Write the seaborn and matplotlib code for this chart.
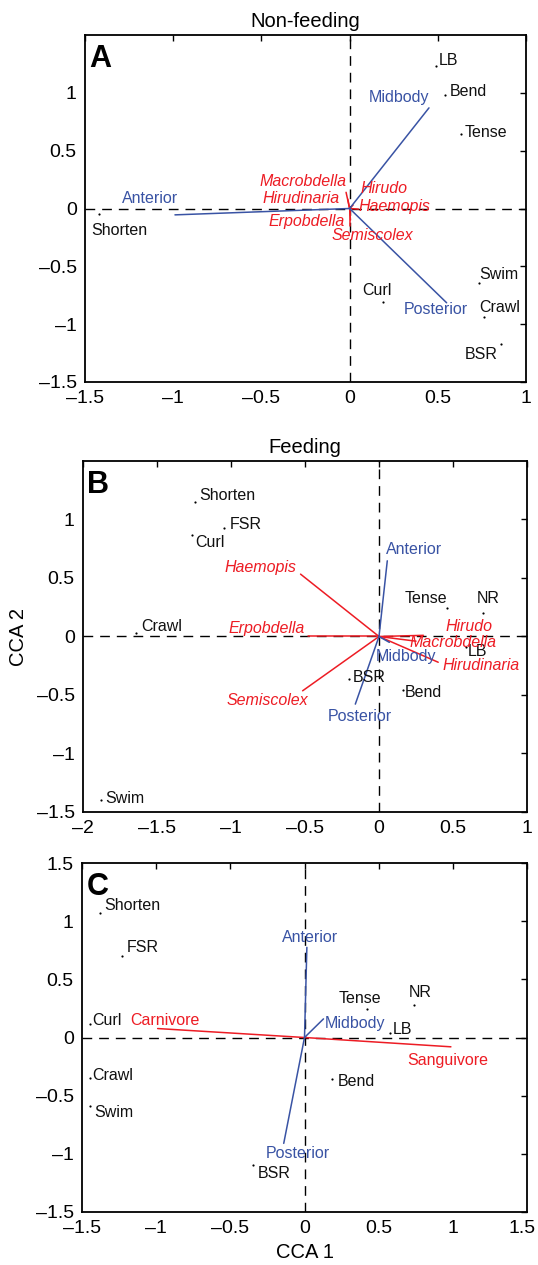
import numpy as np
import pandas as pd
import matplotlib
matplotlib.use("Agg")
import matplotlib.pyplot as plt
import matplotlib.transforms as mtransforms
import seaborn as sns

# ---------------- data ----------------
# Panel A (Non-feeding): behaviour scores
a_beh = ["Shorten", "LB", "Bend", "Tense", "Swim", "Crawl", "BSR", "Curl"]
a_beh_x = [-1.42, 0.49, 0.54, 0.63, 0.735, 0.76, 0.86, 0.19]
a_beh_y = [-0.05, 1.23, 0.98, 0.64, -0.64, -0.94, -1.17, -0.81]
# Panel A segment vectors
a_seg = ["Anterior", "Midbody", "Posterior"]
a_seg_x = [-0.99, 0.45, 0.55]
a_seg_y = [-0.055, 0.87, -0.815]
# Panel A species vectors
a_sp = ["Macrobdella", "Hirudinaria", "Erpobdella", "Hirudo", "Haemopis", "Semiscolex"]
a_sp_x = [-0.02, -0.01, 0.0, 0.02, 0.05, 0.005]
a_sp_y = [0.14, 0.08, -0.15, 0.03, -0.005, -0.10]

# Panel B (Feeding)
b_beh = ["Shorten", "FSR", "Curl", "Crawl", "Tense", "NR", "LB", "BSR", "Bend", "Swim"]
b_beh_x = [-1.243, -1.045, -1.265, -1.64, 0.457, 0.705, 0.59, -0.2, 0.16, -1.88]
b_beh_y = [1.15, 0.93, 0.87, 0.03, 0.24, 0.205, -0.09, -0.365, -0.46, -1.40]
b_seg = ["Anterior", "Midbody", "Posterior"]
b_seg_x = [0.056, 0.07, -0.16]
b_seg_y = [0.647, -0.05, -0.578]
b_sp = ["Haemopis", "Erpobdella", "Semiscolex", "Hirudo", "Macrobdella", "Hirudinaria"]
b_sp_x = [-0.53, -0.48, -0.516, 0.30, 0.25, 0.40]
b_sp_y = [0.533, 0.0, -0.464, 0.01, -0.04, -0.22]

# Panel C (diet)
c_beh = ["Shorten", "FSR", "Curl", "Crawl", "Swim", "BSR", "Bend", "LB", "Tense", "NR"]
c_beh_x = [-1.378, -1.23, -1.445, -1.445, -1.445, -0.344, 0.185, 0.578, 0.42, 0.735]
c_beh_y = [1.066, 0.70, 0.117, -0.35, -0.59, -1.097, -0.354, 0.04, 0.243, 0.28]
c_seg = ["Anterior", "Midbody", "Posterior"]
c_seg_x = [0.016, 0.128, -0.14]
c_seg_y = [0.775, 0.16, -0.91]
c_diet = ["Carnivore", "Sanguivore"]
c_diet_x = [-0.99, 0.987]
c_diet_y = [0.077, -0.08]

titles = ["Non-feeding", "Feeding", ""]
letters = ["A", "B", "C"]

# ---------------- layout (label anchors, data coords) ----------------
lab_a = {
    "beh": {"Shorten": (-1.462, -0.23, "left"), "LB": (0.506, 1.241, "left"),
            "Bend": (0.568, 0.974, "left"), "Tense": (0.65, 0.615, "left"),
            "Swim": (0.735, -0.606, "left"), "Crawl": (0.737, -0.894, "left"),
            "BSR": (0.65, -1.304, "left"), "Curl": (0.072, -0.744, "left")},
    "seg": {"Anterior": (-1.288, 0.046, "left"), "Midbody": (0.11, 0.922, "left"),
            "Posterior": (0.309, -0.916, "left")},
    "sp": {"Macrobdella": (-0.017, 0.192, "right"), "Hirudinaria": (-0.055, 0.049, "right"),
           "Erpobdella": (-0.028, -0.147, "right"), "Hirudo": (0.0625, 0.135, "left"),
           "Haemopis": (0.05, -0.02, "left"), "Semiscolex": (-0.104, -0.276, "left")},
}
lab_b = {
    "beh": {"Shorten": (-1.214, 1.168, "left"), "FSR": (-1.007, 0.918, "left"),
            "Curl": (-1.243, 0.769, "left"), "Crawl": (-1.608, 0.043, "left"),
            "Tense": (0.176, 0.285, "left"), "NR": (0.66, 0.285, "left"),
            "LB": (0.597, -0.165, "left"), "BSR": (-0.174, -0.393, "left"),
            "Bend": (0.176, -0.515, "left"), "Swim": (-1.847, -1.419, "left")},
    "seg": {"Anterior": (0.047, 0.704, "left"), "Midbody": (-0.02, -0.208, "left"),
            "Posterior": (-0.347, -0.726, "left")},
    "sp": {"Haemopis": (-0.556, 0.553, "right"), "Erpobdella": (-0.50, 0.029, "right"),
           "Semiscolex": (-0.477, -0.586, "right"), "Hirudo": (0.45, 0.043, "left"),
           "Macrobdella": (0.205, -0.094, "left"), "Hirudinaria": (0.43, -0.285, "left")},
}
lab_c = {
    "beh": {"Shorten": (-1.349, 1.094, "left"), "FSR": (-1.198, 0.732, "left"),
            "Curl": (-1.43, 0.109, "left"), "Crawl": (-1.43, -0.368, "left"),
            "Swim": (-1.418, -0.682, "left"), "BSR": (-0.317, -1.205, "left"),
            "Bend": (0.222, -0.42, "left"), "LB": (0.593, 0.029, "left"),
            "Tense": (0.229, 0.297, "left"), "NR": (0.701, 0.351, "left")},
    "seg": {"Anterior": (-0.152, 0.823, "left"), "Midbody": (0.135, 0.08, "left"),
            "Posterior": (-0.26, -1.033, "left")},
    "sp": {"Carnivore": (-1.175, 0.109, "left"), "Sanguivore": (0.69, -0.234, "left")},
}

RED = "#ED1C24"
BLUE = "#3953A4"

sns.set_theme(style="white")
plt.rcParams["font.family"] = ["Liberation Sans", "DejaVu Sans"]
plt.rcParams["axes.unicode_minus"] = True
plt.rcParams["text.color"] = "black"
plt.rcParams["axes.labelcolor"] = "black"
plt.rcParams["xtick.color"] = "black"
plt.rcParams["ytick.color"] = "black"

fig = plt.figure(figsize=(5.38, 12.65), dpi=100)
W, H = 538, 1265
boxes = [(85, 35, 526, 382), (83, 461, 527, 812), (82, 863, 527, 1212)]
xlims = [(-1.5, 1.0), (-2.0, 1.0), (-1.5, 1.5)]
xticks = [np.arange(-1.5, 1.01, 0.5), np.arange(-2, 1.01, 0.5), np.arange(-1.5, 1.51, 0.5)]
yticks = [np.arange(-1.5, 1.01, 0.5), np.arange(-1.5, 1.01, 0.5), np.arange(-1.5, 1.51, 0.5)]

panels = [
    (a_beh, a_beh_x, a_beh_y, a_seg, a_seg_x, a_seg_y, a_sp, a_sp_x, a_sp_y, True, lab_a),
    (b_beh, b_beh_x, b_beh_y, b_seg, b_seg_x, b_seg_y, b_sp, b_sp_x, b_sp_y, True, lab_b),
    (c_beh, c_beh_x, c_beh_y, c_seg, c_seg_x, c_seg_y, c_diet, c_diet_x, c_diet_y, False, lab_c),
]


def fmt(v):
    if abs(v) < 1e-9:
        return "0"
    s = ("%g" % v).replace("-", "\u2013")
    return s


for i, (box, pan) in enumerate(zip(boxes, panels)):
    l, t, r, b = box
    ax = fig.add_axes([l / W, 1 - b / H, (r - l) / W, (b - t) / H])
    beh, bx, by, seg, sx, sy, sp, px, py, italic, lab = pan

    ax.axhline(0, color="black", lw=1.0, ls=(0, (7, 5)), zorder=1)
    ax.axvline(0, color="black", lw=1.0, ls=(0, (7, 5)), zorder=1)

    for xx, yy in zip(px, py):
        ax.plot([0, xx], [0, yy], color=RED, lw=1.1, zorder=2)
    for xx, yy in zip(sx, sy):
        ax.plot([0, xx], [0, yy], color=BLUE, lw=1.1, zorder=3)

    df = pd.DataFrame({"x": bx, "y": by, "name": beh})
    sns.scatterplot(data=df, x="x", y="y", ax=ax, color="black", s=2.5,
                    linewidth=0, legend=False, zorder=4)

    for name in beh:
        x0, y0, ha = lab["beh"][name]
        ax.text(x0, y0, name, color="#111111", fontsize=11.5, ha=ha, va="baseline", zorder=5)
    for name in seg:
        x0, y0, ha = lab["seg"][name]
        ax.text(x0, y0, name, color=BLUE, fontsize=11.5, ha=ha, va="baseline", zorder=5)
    for name in sp:
        x0, y0, ha = lab["sp"][name]
        ax.text(x0, y0, name, color=RED, fontsize=11.5, ha=ha, va="baseline",
                style="italic" if italic else "normal", zorder=5)

    ax.set_xlim(*xlims[i])
    ax.set_ylim(-1.5, 1.5)
    ax.set_xticks(xticks[i])
    ax.set_yticks(yticks[i])
    ax.set_xticklabels([fmt(v) for v in xticks[i]])
    ax.set_yticklabels([fmt(v) for v in yticks[i]])
    ax.tick_params(direction="in", length=4, width=1.0, labelsize=14, pad=6,
                   top=True, right=True, colors="black")
    for sp_ in ax.spines.values():
        sp_.set_linewidth(1.3)
        sp_.set_color("black")
    ax.set_xlabel("")
    ax.set_ylabel("")
    if titles[i]:
        ax.set_title(titles[i], fontsize=14.5, pad=6, color="black")
    ax.text(0.01, 0.975, letters[i], transform=ax.transAxes, fontsize=22,
            fontweight="bold", ha="left", va="top", color="black", zorder=6)
    if i == 2:
        ax.set_xlabel("CCA 1", fontsize=14.5, labelpad=4, color="black")
        last = ax.get_xticklabels()[-1]
        shift = mtransforms.ScaledTranslation(-5 / 100, 0, fig.dpi_scale_trans)
        last.set_transform(last.get_transform() + shift)

fig.text(19 / W, 1 - 637 / H, "CCA 2", rotation=90, fontsize=14.5, ha="center",
         va="center", color="black")

fig.savefig("out.png", dpi=100)
